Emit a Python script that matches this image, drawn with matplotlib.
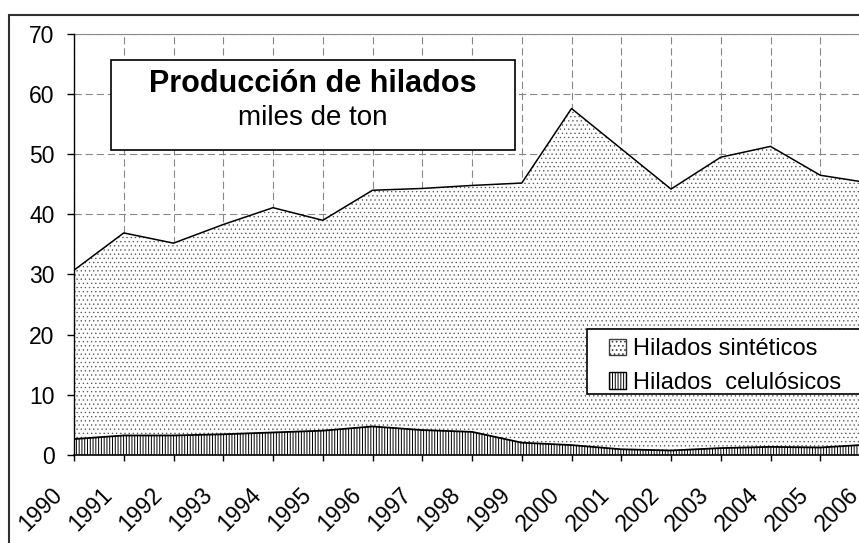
import matplotlib
matplotlib.use('Agg')
import matplotlib.pyplot as plt
from matplotlib.patches import Rectangle, Patch
from matplotlib.transforms import ScaledTranslation

plt.rcParams['font.family'] = ['Liberation Sans', 'DejaVu Sans']
plt.rcParams['hatch.linewidth'] = 0.7

# Producción anual, miles de toneladas
years = [1990, 1991, 1992, 1993, 1994, 1995, 1996, 1997, 1998,
         1999, 2000, 2001, 2002, 2003, 2004, 2005, 2006]
celulosicos = [2.6, 3.2, 3.2, 3.4, 3.7, 4.0, 4.7, 4.1, 3.8,
               2.0, 1.6, 0.9, 0.7, 1.1, 1.3, 1.2, 1.7]
sinteticos = [28.1, 33.7, 32.0, 34.9, 37.4, 35.0, 39.3, 40.2, 41.0,
              43.2, 56.0, 50.0, 43.5, 48.4, 50.0, 45.3, 43.5]
year_labels = [str(y) for y in years]

total = [c + s for c, s in zip(celulosicos, sinteticos)]

W, H = 859, 543
fig = plt.figure(figsize=(W / 100, H / 100), dpi=100)

# outer chart frame (runs off the right and bottom edges)
fig.patches.append(Rectangle((9 / W, -0.1), 1.2, (H - 15) / H + 0.1,
                             transform=fig.transFigure, fill=False,
                             edgecolor='#303030', linewidth=1.5, zorder=0))

ax = fig.add_axes([74 / W, 88.3 / H, 796 / W, 420.7 / H])
ax.set_xlim(1990, 2006)
ax.set_ylim(0, 70)
ax.set_facecolor('none')

# stacked areas
ax.fill_between(years, 0, celulosicos, facecolor='white', edgecolor='black',
                hatch='||||||', linewidth=0, zorder=2)
with plt.rc_context({'hatch.linewidth': 0.45}):
    ax.fill_between(years, celulosicos, total, facecolor='white', edgecolor='#555555',
                    hatch='....', linewidth=0, zorder=2)
ax.plot(years, celulosicos, color='black', linewidth=1.3, zorder=3)
ax.plot(years, total, color='black', linewidth=1.1, zorder=3)

ax.grid(True, color='#888888', linestyle=(0, (6.5, 3.5)), linewidth=0.8, zorder=1)
ax.set_axisbelow(True)

ax.spines['right'].set_visible(False)
ax.spines['top'].set_color('#888888')
ax.spines['top'].set_linewidth(0.8)
ax.spines['left'].set_linewidth(1.0)
ax.spines['bottom'].set_linewidth(1.2)
ax.spines['left'].set_zorder(4)
ax.spines['bottom'].set_zorder(4)

ax.set_yticks(range(0, 71, 10))
ax.set_xticks(years)
ax.set_xticklabels(year_labels, rotation=45, ha='right', va='center',
                   rotation_mode='anchor')
ax.tick_params(axis='y', labelsize=16.5, length=5, width=1, pad=9)
ax.tick_params(axis='x', labelsize=16.5, length=4.5, width=1, pad=22)
shift = ScaledTranslation(-15 / 100, 0, fig.dpi_scale_trans)
for lbl in ax.get_xticklabels():
    lbl.set_transform(lbl.get_transform() + shift)

# title box
fig.patches.append(Rectangle((111 / W, (H - 150) / H), 404 / W, 90 / H,
                             transform=fig.transFigure, facecolor='white',
                             edgecolor='black', linewidth=1.2, zorder=5))
fig.text(313 / W, (H - 84) / H, 'Producción de hilados', fontsize=22,
         fontweight='bold', ha='center', va='center', zorder=6)
fig.text(313 / W, (H - 118) / H, 'miles de ton', fontsize=20,
         ha='center', va='center', zorder=6)

# legend: frame drawn separately so it can run past the right edge
fig.patches.append(Rectangle((587 / W, (H - 394) / H), 0.4, 65 / H,
                             transform=fig.transFigure, facecolor='white',
                             edgecolor='black', linewidth=1.2, zorder=5))
handles = [Patch(facecolor='white', edgecolor='#404040', hatch='....'),
           Patch(facecolor='white', edgecolor='black', hatch='||||||')]
leg = fig.legend(handles, ['Hilados sintéticos', 'Hilados  celulósicos'],
                 loc='center left', bbox_to_anchor=(609 / W, (H - 366) / H),
                 fontsize=17, frameon=False, borderpad=0,
                 handlelength=0.7, handleheight=0.7, handletextpad=0.3,
                 labelspacing=0.48, borderaxespad=0)
leg.set_zorder(6)

fig.savefig('out.png', dpi=100)
